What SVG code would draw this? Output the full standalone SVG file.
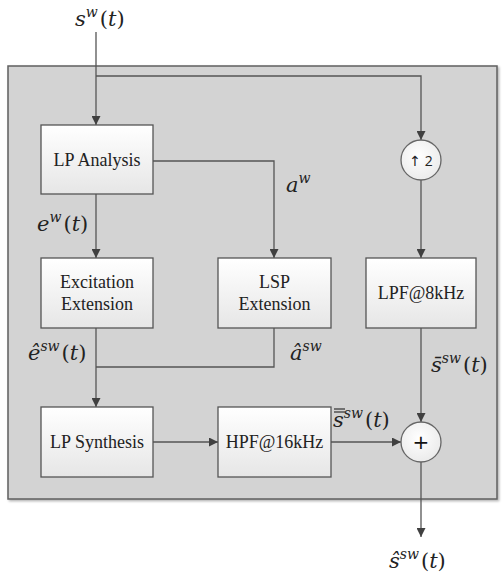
<svg xmlns="http://www.w3.org/2000/svg" width="504" height="576" viewBox="0 0 504 576">
<defs>
<linearGradient id="boxg" x1="0" y1="0" x2="0" y2="1">
<stop offset="0" stop-color="#ffffff"/>
<stop offset="1" stop-color="#e6e6e6"/>
</linearGradient>
<radialGradient id="circg" cx="0.45" cy="0.4" r="0.7">
<stop offset="0" stop-color="#ffffff"/>
<stop offset="1" stop-color="#e8e8e8"/>
</radialGradient>
<marker id="arr" viewBox="0 0 10 10" refX="10" refY="5" markerWidth="10" markerHeight="9" markerUnits="userSpaceOnUse" orient="auto">
<path d="M0,0 L10,5 L0,10 z" fill="#404040"/>
</marker>
<filter id="sh" x="-5%" y="-5%" width="110%" height="110%">
<feDropShadow dx="1.5" dy="1.5" stdDeviation="1.2" flood-color="#000" flood-opacity="0.3"/>
</filter>
</defs>
<style>
.box{fill:url(#boxg);stroke:#555;stroke-width:1.3}
.circ{fill:url(#circg);stroke:#666;stroke-width:1.3}
.lbl{font-family:"Liberation Serif","DejaVu Serif",serif;font-size:18px;fill:#222;text-anchor:middle}
.math{font-family:"DejaVu Serif","Liberation Serif",serif;font-size:21px;fill:#222;font-style:italic}
.sup{font-size:14px}
.up{font-style:normal}
.conn{fill:none;stroke:#555;stroke-width:1.3}
.bar{stroke:#222;stroke-width:1.1}
</style>
<rect id="panel" x="8" y="66" width="489" height="433" fill="#d3d3d3" stroke="#5f5f5f" stroke-width="1.5" filter="url(#sh)"/>

<g id="connectors">
<path class="conn" d="M96,32 V125" marker-end="url(#arr)"/>
<path class="conn" d="M96,76 H421 V140" marker-end="url(#arr)"/>
<path class="conn" d="M421,180 V258" marker-end="url(#arr)"/>
<path class="conn" d="M96,194 V258" marker-end="url(#arr)"/>
<path class="conn" d="M153,161 H274 V258" marker-end="url(#arr)"/>
<path class="conn" d="M96,328 V407" marker-end="url(#arr)"/>
<path class="conn" d="M274,328 V367 H96"/>
<path class="conn" d="M153,442 H218" marker-end="url(#arr)"/>
<path class="conn" d="M331,442 H401" marker-end="url(#arr)"/>
<path class="conn" d="M421,328 V422" marker-end="url(#arr)"/>
<path class="conn" d="M421,462 V537" marker-end="url(#arr)"/>
</g>

<g id="lp-analysis"><rect class="box" x="41" y="125" width="112" height="69"/><text class="lbl" x="97" y="166">LP Analysis</text></g>
<g id="excitation-extension"><rect class="box" x="41" y="258" width="112" height="70"/><text class="lbl" x="97" y="288">Excitation</text><text class="lbl" x="97" y="310">Extension</text></g>
<g id="lsp-extension"><rect class="box" x="218" y="258" width="113" height="70"/><text class="lbl" x="274.5" y="288">LSP</text><text class="lbl" x="274.5" y="310">Extension</text></g>
<g id="lpf-8khz"><rect class="box" x="366" y="258" width="110" height="70"/><text class="lbl" x="421" y="299">LPF@8kHz</text></g>
<g id="lp-synthesis"><rect class="box" x="41" y="407" width="112" height="70"/><text class="lbl" x="97" y="448">LP Synthesis</text></g>
<g id="hpf-16khz"><rect class="box" x="218" y="407" width="113" height="70"/><text class="lbl" x="274.5" y="448">HPF@16kHz</text></g>
<g id="upsample"><circle class="circ" cx="421" cy="160" r="20"/><text x="421" y="166" font-family="'Open Sans','DejaVu Sans',sans-serif" font-size="14" fill="#222" text-anchor="middle">↑ 2</text></g>
<g id="adder"><circle class="circ" cx="421" cy="442" r="20"/><text x="421" y="449" font-family="'DejaVu Sans',sans-serif" font-size="20" fill="#111" text-anchor="middle">+</text></g>

<g id="labels">
<text class="math" x="75" y="26">s<tspan class="sup" dy="-9">w</tspan><tspan dx="2" dy="9" class="up">(</tspan>t<tspan class="up">)</tspan></text>
<text class="math" x="37" y="231">e<tspan class="sup" dy="-9">w</tspan><tspan dx="2" dy="9" class="up">(</tspan>t<tspan class="up">)</tspan></text>
<text class="math" x="286" y="192">a<tspan class="sup" dy="-9">w</tspan></text>
<text class="math" x="28" y="360">ê<tspan class="sup" dy="-9">sw</tspan><tspan dx="2" dy="9" class="up">(</tspan>t<tspan class="up">)</tspan></text>
<text class="math" x="290" y="360">â<tspan class="sup" dy="-9">sw</tspan></text>
<text class="math" x="431" y="372">s̄<tspan class="sup" dy="-9">sw</tspan><tspan dx="2" dy="9" class="up">(</tspan>t<tspan class="up">)</tspan></text>
<text class="math" x="333" y="427">s<tspan class="sup" dy="-9">sw</tspan><tspan dx="2" dy="9" class="up">(</tspan>t<tspan class="up">)</tspan></text>
<line class="bar" x1="334" y1="409" x2="345" y2="409"/>
<line class="bar" x1="334" y1="412" x2="345" y2="412"/>
<text class="math" x="389" y="568">ŝ<tspan class="sup" dy="-9">sw</tspan><tspan dx="2" dy="9" class="up">(</tspan>t<tspan class="up">)</tspan></text>
</g>
</svg>
